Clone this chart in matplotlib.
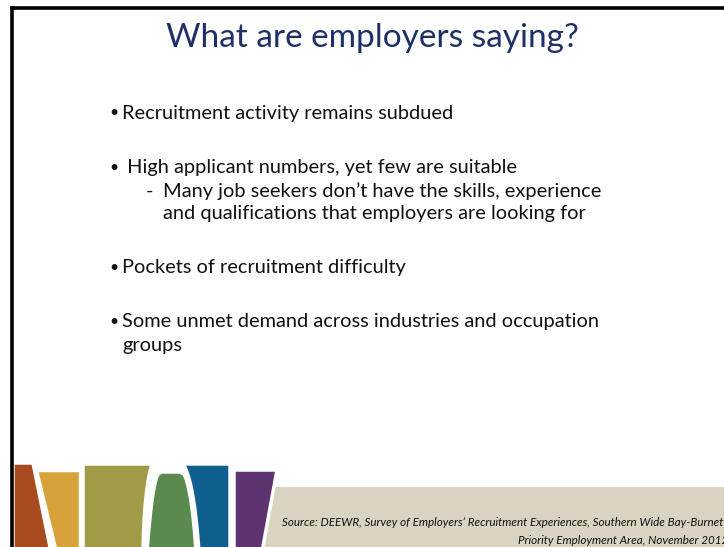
import matplotlib
matplotlib.use("Agg")
import matplotlib.pyplot as plt
from matplotlib.patches import Polygon
import numpy as np

title = "What are employers saying?"
bullets = [
    ("•", "Recruitment activity remains subdued", 113),
    ("•", " High applicant numbers, yet few are suitable", 168),
    ("•", "Pockets of recruitment difficulty", 268),
    ("•", "Some unmet demand across industries and occupation", 322),
]
sub_lines = [
    ("-", "Many job seekers don\u2019t have the skills, experience", 191),
    ("", "and qualifications that employers are looking for", 214),
    ("", "groups", 345),
]
source_lines = [
    "Source: DEEWR, Survey of Employers\u2019 Recruitment Experiences, Southern Wide Bay-Burnett",
    "Priority Employment Area, November 2012",
]
band_colors = ["#A84C20", "#D8A23A", "#A19B48", "#5A8A4E", "#0F5F8F", "#5E3470"]
beige = "#D9D3C1"
navy = "#1F3068"

W, H = 724, 547
fig = plt.figure(figsize=(W / 100, H / 100), dpi=100)
ax = fig.add_axes([0, 0, 1, 1])
ax.set_xlim(0, W)
ax.set_ylim(H, 0)
ax.axis("off")

def curve(p0, p1, c, n=20):
    t = np.linspace(0, 1, n)[:, None]
    p0, p1, c = map(np.array, (p0, p1, c))
    return ((1 - t) ** 2 * p0 + 2 * (1 - t) * t * c + t ** 2 * p1).tolist()

# beige band
ax.add_patch(Polygon([(266, 487), (W + 5, 487), (W + 5, H + 5), (258, H + 5)],
                     closed=True, facecolor=beige, edgecolor="none"))

shapes = [
    [(13, 463), (33, 463), (51, H + 5), (13, H + 5)],
    [(36, 470), (80, 470), (80, H + 5), (56, H + 5)],
    [(83, 464), (152, 464)] + curve((152, 464), (143, H + 5), (144, 490)) + [(83, H + 5)],
    curve((147, H + 5), (158, 474), (152, 485)) + [(162, 472), (180, 472)]
    + curve((184, 474), (196, H + 5), (192, 490)),
    curve((183, 464), (199, H + 5), (194, 480)) + [(230, H + 5), (230, 464)],
    [(234, 470), (277, 470), (262, H + 5), (234, H + 5)],
]
for pts, col in zip(shapes, band_colors):
    ax.add_patch(Polygon(pts, closed=True, facecolor=col, edgecolor="white",
                         linewidth=2.5, joinstyle="round"))

# border
ax.plot([12, W + 5], [8, 8], color="black", lw=2.6, solid_capstyle="projecting")
ax.plot([12, 12], [8, H + 5], color="black", lw=2.6, solid_capstyle="projecting")

font = "Lato"
fs = 14.4
tc = "#111111"
ax.text(372, 38, title, ha="center", va="center", fontsize=24, color=navy,
        family=font)

for sym, txt, y in bullets:
    ax.text(109, y, sym, ha="left", va="center", fontsize=fs * 0.8, color=tc,
            family=font)
    ax.text(122, y, txt, ha="left", va="center", fontsize=fs, color=tc,
            family=font)
for sym, txt, y in sub_lines:
    x = 122 if txt == "groups" else 163
    if sym:
        ax.text(146, y, sym, ha="left", va="center", fontsize=fs, color=tc,
                family=font)
    ax.text(x, y, txt, ha="left", va="center", fontsize=fs, color=tc,
            family=font)

for txt, y in zip(source_lines, [523, 540]):
    ax.text(728, y, txt, ha="right", va="center", fontsize=8.4, style="italic",
            color=tc, family=font)

fig.savefig("out.png", dpi=100)
